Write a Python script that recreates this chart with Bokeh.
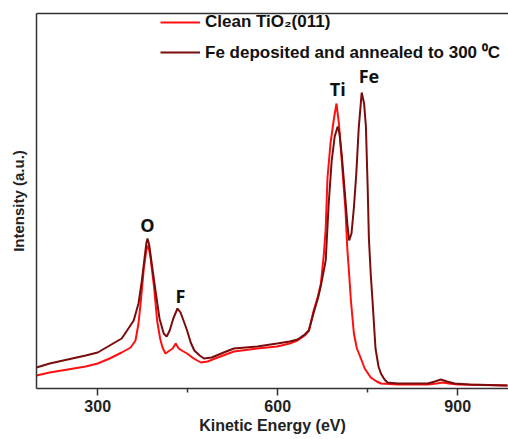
from bokeh.plotting import figure
from bokeh.models import Range1d, FixedTicker, Legend, LegendItem, ColumnDataSource, LinearAxis
from bokeh.core.properties import value
from bokeh.embed import file_html
from bokeh.resources import INLINE

# Clean TiO2(011)
clean_ev = [198, 220, 250, 280, 300, 320, 340, 355, 363, 368, 372, 377, 381, 383, 386, 388,
            394, 399, 404, 408, 413, 420, 425, 430, 435, 440, 449, 460, 472, 483, 500, 527,
            566, 599, 620, 633, 645, 652, 660, 667, 672, 677, 680, 683, 688, 694, 698, 702,
            708, 713, 716, 719, 722, 727, 732, 738, 745, 755, 765, 772, 800, 850, 865, 875,
            885, 900, 983]
clean_int = [13, 16, 19, 22, 25, 30, 36, 41, 48, 65, 88, 121, 138, 143, 138, 131,
             101, 68, 50, 41, 35, 38, 40, 45, 40, 38, 35, 30, 26, 27, 31, 37,
             40, 42, 45, 48, 53, 58, 78, 92, 105, 135, 160, 211, 245, 271, 285, 265,
             218, 178, 140, 115, 88, 55, 40, 31, 20, 11, 7, 5, 4, 4, 5, 6,
             5, 4, 3]

# Fe deposited and annealed to 300 C
fe_ev = [198, 220, 250, 280, 300, 320, 340, 349, 360, 368, 373, 378, 381, 383, 386, 390,
         397, 403, 410, 415, 420, 426, 433, 438, 443, 449, 455, 461, 470, 477, 490, 510,
         527, 566, 599, 620, 633, 645, 652, 660, 667, 672, 680, 685, 690, 695, 700, 703,
         707, 712, 716, 719, 723, 727, 731, 735, 740, 744, 747, 750, 752, 755, 758, 763,
         768, 772, 778, 783, 800, 850, 862, 872, 882, 895, 920, 983]
fe_int = [21, 25, 29, 33, 36, 43, 50, 58, 68, 85, 105, 130, 145, 150, 143, 125,
          95, 70, 55, 52, 58, 70, 80, 76, 68, 58, 46, 38, 33, 30, 31, 36,
          40, 42, 45, 47, 49, 54, 58, 76, 90, 103, 128, 185, 228, 252, 262, 255,
          232, 195, 165, 148, 155, 181, 215, 260, 296, 285, 262, 200, 150, 115, 88, 40,
          22, 15, 9, 6, 5, 5, 7, 9, 7, 5, 4, 3]

peak_labels = ["O", "F", "Ti", "Fe"]
peak_x = [383, 438, 700, 752]
peak_y = [164, 93, 300, 313]

x_ticks = [300, 600, 900]
x_minor = [450, 750]

FRAME_W = 472
p = figure(frame_width=FRAME_W, frame_height=375,
           x_range=Range1d(198, 198 + FRAME_W / 0.6), y_range=Range1d(0, 375),
           output_backend="svg", toolbar_location=None,
           min_border_top=13, min_border_left=36, min_border_right=0, min_border_bottom=0)

p.xgrid.visible = False
p.ygrid.visible = False
p.outline_line_color = None
p.background_fill_color = "white"
p.border_fill_color = "white"

r_clean = p.line(clean_ev, clean_int, line_color="#ff1010", line_width=2)
r_fe = p.line(fe_ev, fe_int, line_color="#7a0c0c", line_width=2)

src = ColumnDataSource(dict(x=peak_x, y=peak_y, t=peak_labels))
p.text(x="x", y="y", text="t", source=src, text_font=value("Open Sans"), text_font_style="bold",
       text_font_size="18px", text_align="center", text_baseline="middle", text_color="#111111")

xa = p.xaxis[0]
xa.ticker = FixedTicker(ticks=x_ticks, minor_ticks=x_minor)
xa.axis_line_color = "#333333"
xa.axis_line_width = 1.5
xa.major_tick_line_color = "#333333"
xa.major_tick_line_width = 1.5
xa.minor_tick_line_color = "#333333"
xa.minor_tick_line_width = 1.5
xa.major_tick_in = 0
xa.major_tick_out = 7
xa.minor_tick_in = 0
xa.minor_tick_out = 4
xa.major_label_standoff = 4
xa.major_label_text_font = "Liberation Sans"
xa.major_label_text_font_style = "bold"
xa.major_label_text_font_size = "16px"
xa.major_label_text_color = "#222222"
xa.axis_label = "Kinetic Energy (eV)"
xa.axis_label_text_font = "Liberation Sans"
xa.axis_label_text_font_style = "bold"
xa.axis_label_text_font_size = "16px"
xa.axis_label_text_color = "#222222"
xa.axis_label_standoff = 2

ya = p.yaxis[0]
ya.ticker = FixedTicker(ticks=[])
ya.major_label_text_font_size = "0px"
ya.major_tick_out = 0
ya.major_tick_in = 0
ya.minor_tick_out = 0
ya.minor_tick_in = 0
ya.axis_line_color = "#333333"
ya.axis_line_width = 1.5
ya.axis_label = "Intensity (a.u.)"
ya.axis_label_text_font = "Liberation Sans"
ya.axis_label_text_font_style = "bold"
ya.axis_label_text_font_size = "15px"
ya.axis_label_text_color = "#222222"
ya.axis_label_standoff = 10

top = LinearAxis(ticker=FixedTicker(ticks=[]), major_label_text_font_size="0px",
                 major_tick_out=0, major_tick_in=0, minor_tick_out=0, minor_tick_in=0,
                 axis_line_color="#333333", axis_line_width=1.5)
p.add_layout(top, "above")

legend = Legend(items=[LegendItem(label="Clean TiO\u2082(011)", renderers=[r_clean]),
                       LegendItem(label="Fe deposited and annealed to 300 \u2070C", renderers=[r_fe])],
                location=(124, 325), padding=0, margin=0, spacing=8,
                glyph_width=40, glyph_height=20, label_standoff=5,
                border_line_color=None, background_fill_alpha=0,
                label_text_font="Liberation Sans", label_text_font_style="bold",
                label_text_font_size="17px", label_text_color="#111111")
p.add_layout(legend, "center")

open("out.html", "w").write(file_html(p, INLINE))
